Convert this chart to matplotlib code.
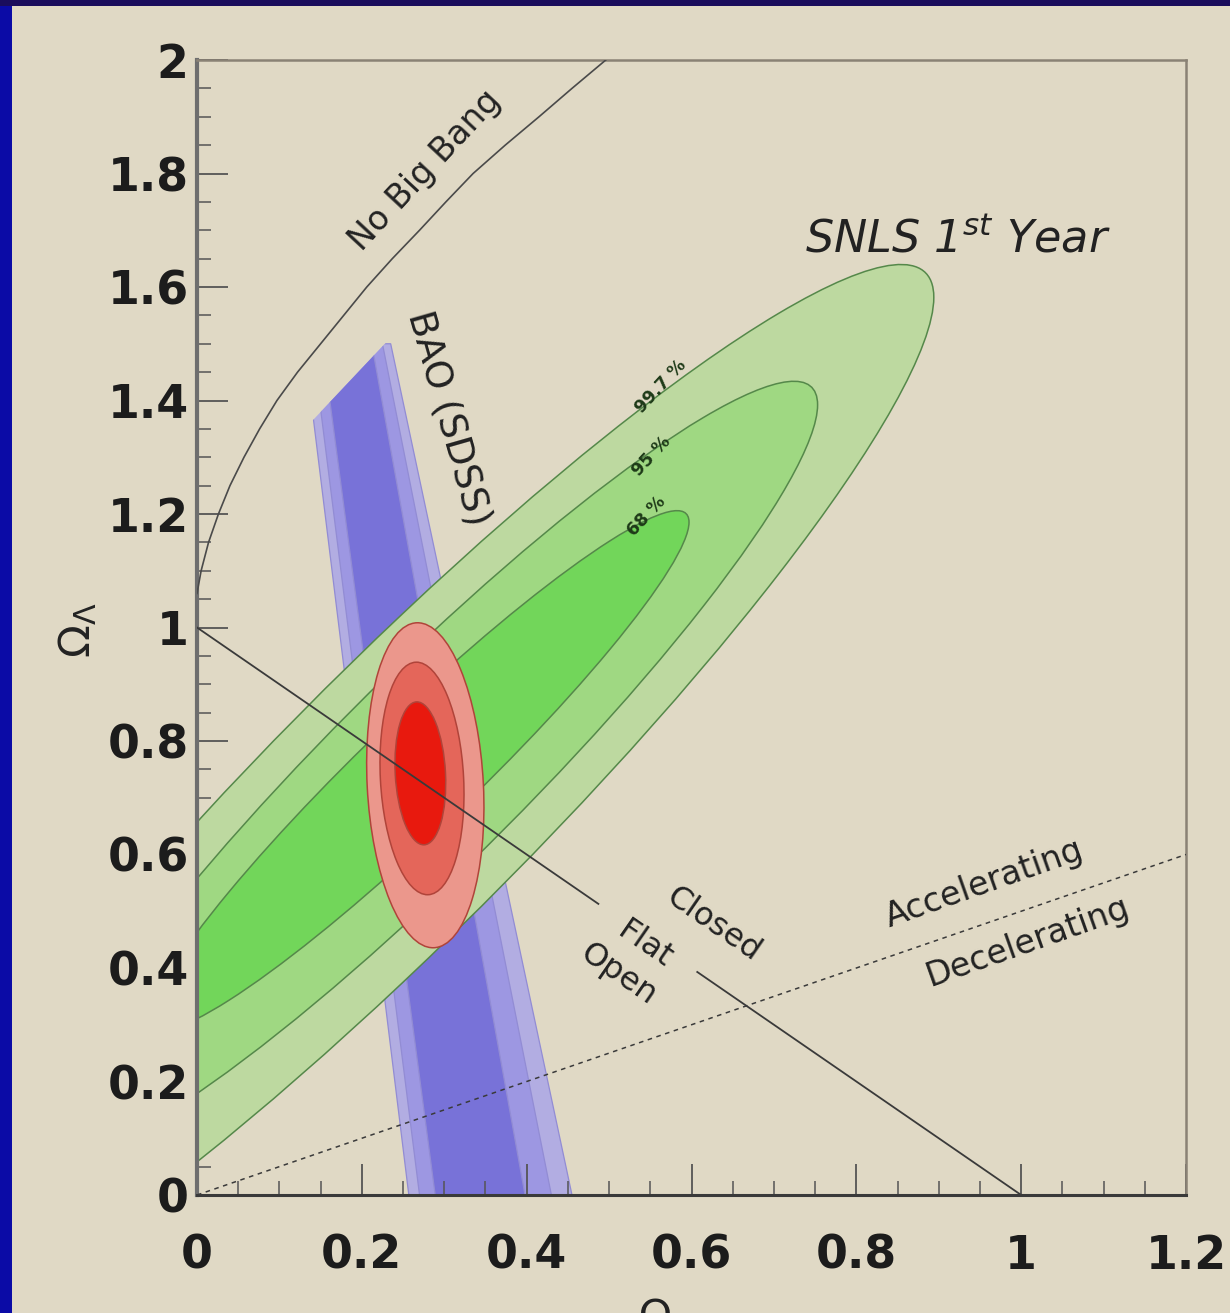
import numpy as np
import matplotlib.pyplot as plt
from matplotlib.patches import Ellipse, Polygon, Rectangle
from matplotlib.transforms import Affine2D
from matplotlib.ticker import MultipleLocator

plt.rcParams['font.family'] = ['DejaVu Sans']
plt.rcParams['mathtext.fontset'] = 'dejavusans'

# SNLS 1st year contours, outer (99.7%) to inner (68%).
# Each one: centre, slope of the chord mid-line, half width in x, half height in y
snls_levels = ['99.7 %', '95 %', '68 %']
snls_cx = [0.25, 0.28, 0.27]
snls_cy = [0.700, 0.749, 0.748]
snls_slope = [1.369, 1.36, 1.338]
snls_halfx = [0.644, 0.473, 0.327]
snls_halfy = [0.325, 0.235, 0.135]
snls_colors = ['#bdd9a0', '#9fd882', '#72d65a']
snls_label_x = [0.563, 0.552, 0.546]
snls_label_y = [1.425, 1.302, 1.196]

# combined SNLS + BAO contours (red)
comb_cx = [0.277, 0.273, 0.271]
comb_cy = [0.722, 0.734, 0.743]
comb_w = [0.141, 0.101, 0.061]
comb_h = [0.573, 0.41, 0.252]
comb_colors = ['#eb978c', '#e4665a', '#e8190e']

# BAO (SDSS) band edges at y = 0 and y = 1.5, outer / mid / inner
bao_y = [0.0, 1.5]
bao_left = [[0.257, 0.130], [0.270, 0.140], [0.289, 0.152]]
bao_right = [[0.455, 0.235], [0.430, 0.225], [0.398, 0.212]]
bao_colors = ['#b2ade2', '#9d97e2', '#7872d8']
bao_cut_x = [0.143, 0.2345]
bao_cut_y = [1.369, 1.51]

# reference lines
nobb_y = [1.06, 1.10, 1.15, 1.20, 1.25, 1.30, 1.35, 1.40, 1.45, 1.50,
          1.55, 1.60, 1.65, 1.70, 1.75, 1.80, 1.85, 1.90, 1.95, 2.00]
nobb_x = [0.0, 0.005, 0.014, 0.026, 0.040, 0.057, 0.076, 0.097, 0.122, 0.150,
          0.178, 0.206, 0.237, 0.270, 0.302, 0.335, 0.374, 0.415, 0.455, 0.496]
flat_x = [[0.0, 0.487], [0.607, 1.0]]
flat_y = [[1.0, 0.513], [0.393, 0.0]]
acc_x = [0.0, 1.2]
acc_y = [0.0, 0.6]

x_ticks = [0, 0.2, 0.4, 0.6, 0.8, 1.0, 1.2]
x_ticklabels = ['0', '0.2', '0.4', '0.6', '0.8', '1', '1.2']
y_ticks = [0, 0.2, 0.4, 0.6, 0.8, 1.0, 1.2, 1.4, 1.6, 1.8, 2.0]
y_ticklabels = ['0', '0.2', '0.4', '0.6', '0.8', '1', '1.2', '1.4', '1.6', '1.8', '2']

bg = '#e0d9c5'
W, H = 1230, 1313
fig = plt.figure(figsize=(W / 100, H / 100), dpi=100, facecolor=bg)
ax = fig.add_axes([197 / W, 1 - 1195 / H, (1186 - 197) / W, (1195 - 60) / H])
ax.set_facecolor(bg)
ax.set_xlim(0, 1.2)
ax.set_ylim(0, 2)

# BAO band, clipped along its slanted upper end
slope = (bao_cut_y[1] - bao_cut_y[0]) / (bao_cut_x[1] - bao_cut_x[0])
cx0, cx1 = -0.5, 1.5
clip = Polygon([(cx0, -1), (cx1, -1),
                (cx1, bao_cut_y[0] + slope * (cx1 - bao_cut_x[0])),
                (cx0, bao_cut_y[0] + slope * (cx0 - bao_cut_x[0]))],
               closed=True, transform=ax.transData)
for left, right, col in zip(bao_left, bao_right, bao_colors):
    verts = [(left[0], bao_y[0]), (left[1], bao_y[1]),
             (right[1], bao_y[1]), (right[0], bao_y[0])]
    p = Polygon(verts, closed=True, facecolor=col, edgecolor='#928cd4',
                lw=0.9, zorder=1)
    ax.add_patch(p)
    p.set_clip_path(clip)

# SNLS contours: axis-aligned ellipse sheared along the chord mid-line
for i in range(3):
    shear = Affine2D().from_values(1, snls_slope[i], 0, 1, snls_cx[i], snls_cy[i])
    e = Ellipse((0, 0), 2 * snls_halfx[i], 2 * snls_halfy[i],
                facecolor=snls_colors[i], edgecolor='#55884a', lw=1.1,
                zorder=2, transform=shear + ax.transData)
    ax.add_patch(e)
    ax.text(snls_label_x[i], snls_label_y[i], snls_levels[i], fontsize=12.5,
            fontweight='bold', color='#1e3a18', rotation=47,
            ha='center', va='center', rotation_mode='anchor', zorder=5)

# combined contours
for i in range(3):
    e = Ellipse((comb_cx[i], comb_cy[i]), comb_w[i], comb_h[i], angle=2,
                facecolor=comb_colors[i], edgecolor='#b0443a', lw=1.1, zorder=3)
    ax.add_patch(e)

# lines
ax.plot(nobb_x, nobb_y, color='#4a4a4a', lw=1.2, zorder=4)
for fx, fy in zip(flat_x, flat_y):
    ax.plot(fx, fy, color='#3a3a3a', lw=1.3, zorder=4)
ax.plot(acc_x, acc_y, color='#3a3a3a', lw=1.1, ls=(0, (3, 3)), zorder=4)

# annotations
ax.text(0.277, 1.806, 'No Big Bang', fontsize=24, rotation=47,
        ha='center', va='center', rotation_mode='anchor', color='#222222')
ax.text(0.305, 1.369, 'BAO (SDSS)', fontsize=27, rotation=-74,
        ha='center', va='center', rotation_mode='anchor', color='#222222')
ax.text(0.923, 1.683, r'SNLS 1$^{st}$ Year', fontsize=32, style='italic',
        ha='center', va='center', color='#222222')
ax.text(0.626, 0.476, 'Closed', fontsize=23, rotation=-34.6,
        ha='center', va='center', rotation_mode='anchor', color='#222222')
ax.text(0.544, 0.441, 'Flat', fontsize=23, rotation=-34.6,
        ha='center', va='center', rotation_mode='anchor', color='#222222')
ax.text(0.511, 0.388, 'Open', fontsize=23, rotation=-34.6,
        ha='center', va='center', rotation_mode='anchor', color='#222222')
ax.text(0.955, 0.548, 'Accelerating', fontsize=24, rotation=19.5,
        ha='center', va='center', rotation_mode='anchor', color='#222222')
ax.text(1.008, 0.447, 'Decelerating', fontsize=24, rotation=19.5,
        ha='center', va='center', rotation_mode='anchor', color='#222222')

# axes styling
ax.set_xticks(x_ticks)
ax.set_xticklabels(x_ticklabels, fontweight='bold', fontsize=33, color='#1c1c1c')
ax.set_yticks(y_ticks)
ax.set_yticklabels(y_ticklabels, fontweight='bold', fontsize=33, color='#1c1c1c')
ax.xaxis.set_minor_locator(MultipleLocator(0.05))
ax.yaxis.set_minor_locator(MultipleLocator(0.05))
ax.tick_params(which='major', direction='in', length=22, width=1.3, color='#555555')
ax.tick_params(which='minor', direction='in', length=10, width=1.1, color='#555555')
ax.tick_params(axis='x', which='major', pad=28)
ax.tick_params(axis='y', which='major', pad=6)
ax.spines['left'].set_color('#6e6e6e')
ax.spines['left'].set_linewidth(3)
ax.spines['bottom'].set_color('#3a3a3a')
ax.spines['bottom'].set_linewidth(2.2)
for s in ['top', 'right']:
    ax.spines[s].set_color('#8a8275')
    ax.spines[s].set_linewidth(1.8)

fig.text(78 / W, 1 - 630 / H, r'$\Omega_\Lambda$', fontsize=31, rotation=90,
         ha='center', va='center', color='#222222')
fig.text(668 / W, 1 - 1296 / H, r'$\Omega_M$', fontsize=31,
         ha='center', va='top', color='#222222')

# slide frame
fig.patches.append(Rectangle((0, 0), 12 / W, 1, transform=fig.transFigure,
                             facecolor='#0b0ba6', edgecolor='none', zorder=10))
fig.patches.append(Rectangle((0, 1 - 6 / H), 1, 6 / H, transform=fig.transFigure,
                             facecolor='#1a0d5c', edgecolor='none', zorder=10))

fig.savefig('out.png', dpi=100, facecolor=bg)
